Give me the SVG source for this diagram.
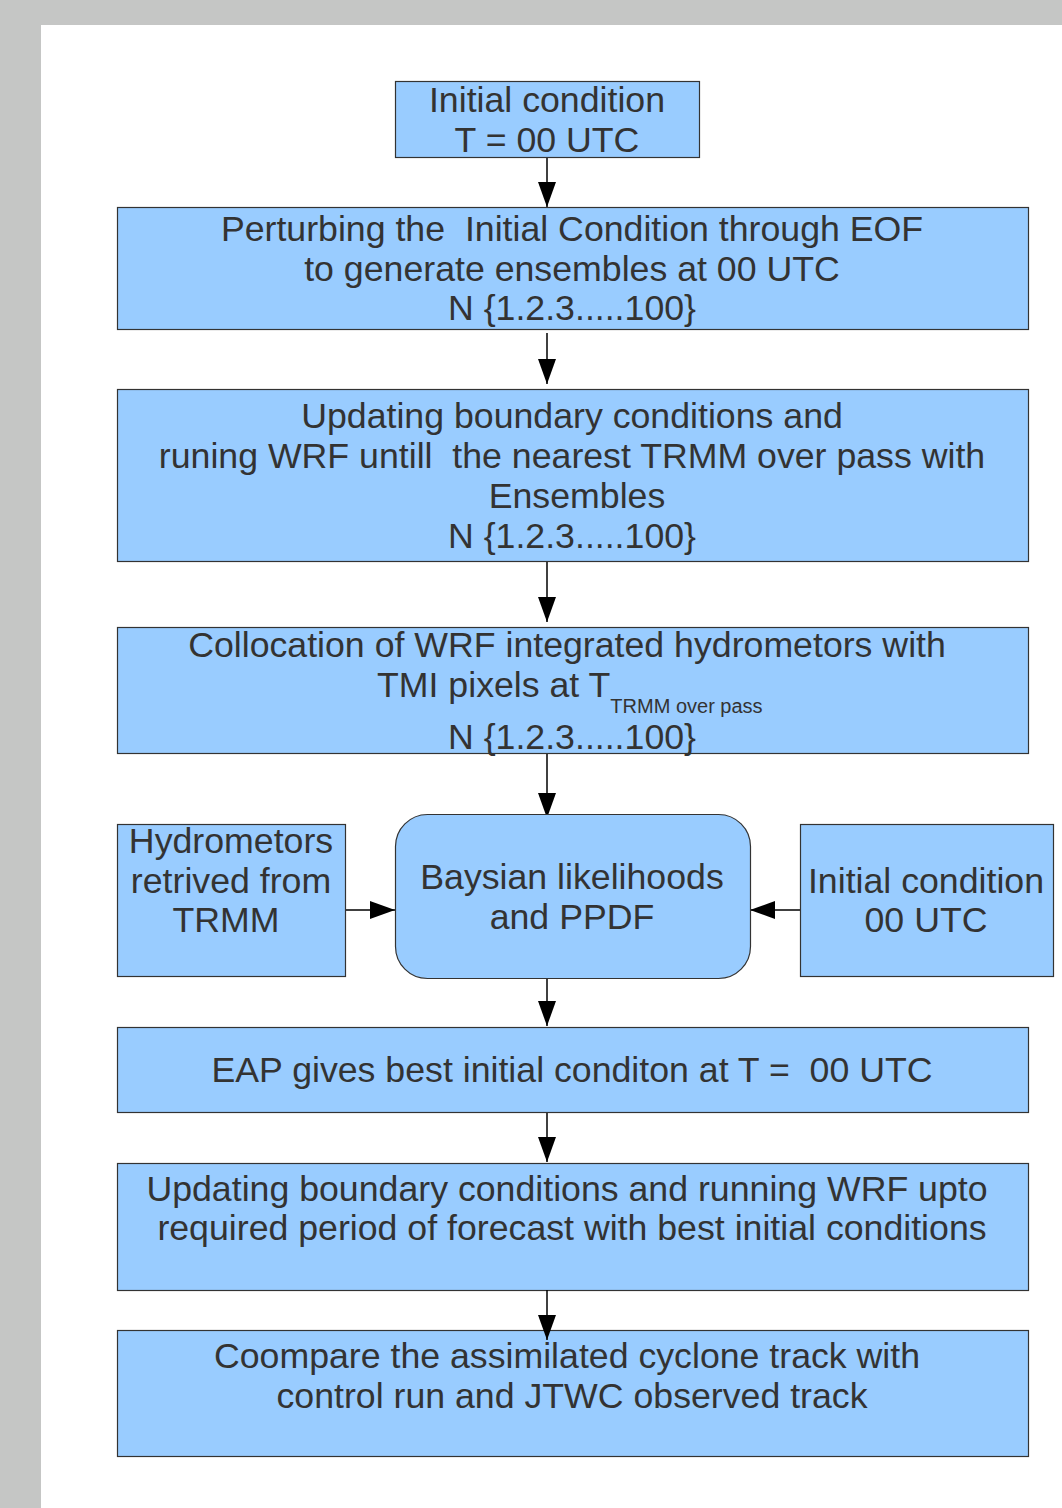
<svg xmlns="http://www.w3.org/2000/svg" width="1062" height="1508" viewBox="0 0 1062 1508">
<defs>
<style>
.box{fill:#99ccff;stroke:#333333;stroke-width:1.2}
.t{font-family:"Liberation Sans",Arial,sans-serif;font-size:35.7px;fill:#333333;text-anchor:middle}
.c{stroke:#000;stroke-width:1.5;fill:none}
</style>
<marker id="ah" markerWidth="25" markerHeight="18" refX="25" refY="9" viewBox="0 0 25 18" markerUnits="userSpaceOnUse" orient="auto">
<path d="M0,0 L25,9 L0,18 Z" fill="#000"/>
</marker>
</defs>
<rect x="0" y="0" width="1062" height="1508" fill="#c5c6c5"/>
<rect x="41" y="25" width="1021" height="1483" fill="#ffffff"/>
<g id="connectors">
<line class="c" x1="547" y1="157" x2="547" y2="207" marker-end="url(#ah)"/>
<line class="c" x1="547" y1="333" x2="547" y2="384" marker-end="url(#ah)"/>
<line class="c" x1="547" y1="561" x2="547" y2="622" marker-end="url(#ah)"/>
<line class="c" x1="547" y1="753" x2="547" y2="818" marker-end="url(#ah)"/>
<line class="c" x1="345" y1="910" x2="395" y2="910" marker-end="url(#ah)"/>
<line class="c" x1="800" y1="910" x2="750" y2="910" marker-end="url(#ah)"/>
<line class="c" x1="547" y1="978" x2="547" y2="1026" marker-end="url(#ah)"/>
<line class="c" x1="547" y1="1112" x2="547" y2="1162" marker-end="url(#ah)"/>
</g>
<g id="n1"><rect class="box" x="395.5" y="81.5" width="304" height="76"/>
<text class="t" x="547" y="112">Initial condition</text>
<text class="t" x="547" y="152">T = 00 UTC</text></g>
<g id="n2"><rect class="box" x="117.5" y="207.5" width="911" height="122"/>
<text class="t" x="572" y="241" xml:space="preserve">Perturbing the  Initial Condition through EOF</text>
<text class="t" x="572" y="281">to generate ensembles at 00 UTC</text>
<text class="t" x="572" y="320">N {1.2.3.....100}</text></g>
<g id="n3"><rect class="box" x="117.5" y="389.5" width="911" height="172"/>
<text class="t" x="572" y="428">Updating boundary conditions and</text>
<text class="t" x="572" y="468" xml:space="preserve">runing WRF untill  the nearest TRMM over pass with</text>
<text class="t" x="577" y="508">Ensembles</text>
<text class="t" x="572" y="548">N {1.2.3.....100}</text></g>
<g id="n4"><rect class="box" x="117.5" y="627.5" width="911" height="126"/>
<text class="t" x="567" y="657">Collocation of WRF integrated hydrometors with</text>
<text class="t" x="377" y="697" style="text-anchor:start">TMI pixels at T<tspan font-size="20" dy="16">TRMM over pass</tspan></text>
<text class="t" x="572" y="749">N {1.2.3.....100}</text></g>
<g id="n5"><rect class="box" x="117.5" y="824.5" width="228" height="152"/>
<text class="t" x="231" y="853">Hydrometors</text>
<text class="t" x="231" y="893">retrived from</text>
<text class="t" x="226" y="932">TRMM</text></g>
<g id="n6"><rect class="box" x="395.5" y="814.5" width="355" height="164" rx="32" ry="32"/>
<text class="t" x="572" y="889">Baysian likelihoods</text>
<text class="t" x="572" y="929">and PPDF</text></g>
<g id="n7"><rect class="box" x="800.5" y="824.5" width="253" height="152"/>
<text class="t" x="926" y="893">Initial condition</text>
<text class="t" x="926" y="932">00 UTC</text></g>
<g id="n8"><rect class="box" x="117.5" y="1027.5" width="911" height="85"/>
<text class="t" x="572" y="1082" xml:space="preserve">EAP gives best initial conditon at T =  00 UTC</text></g>
<g id="n9"><rect class="box" x="117.5" y="1163.5" width="911" height="127"/>
<text class="t" x="567" y="1201">Updating boundary conditions and running WRF upto</text>
<text class="t" x="572" y="1240">required period of forecast with best initial conditions</text></g>
<g id="n10"><rect class="box" x="117.5" y="1330.5" width="911" height="126"/>
<text class="t" x="567" y="1368">Coompare the assimilated cyclone track with</text>
<text class="t" x="572" y="1408">control run and JTWC observed track</text></g>
<g id="connectors-over">
<line class="c" x1="547" y1="1290" x2="547" y2="1340" marker-end="url(#ah)"/>
</g>
</svg>
